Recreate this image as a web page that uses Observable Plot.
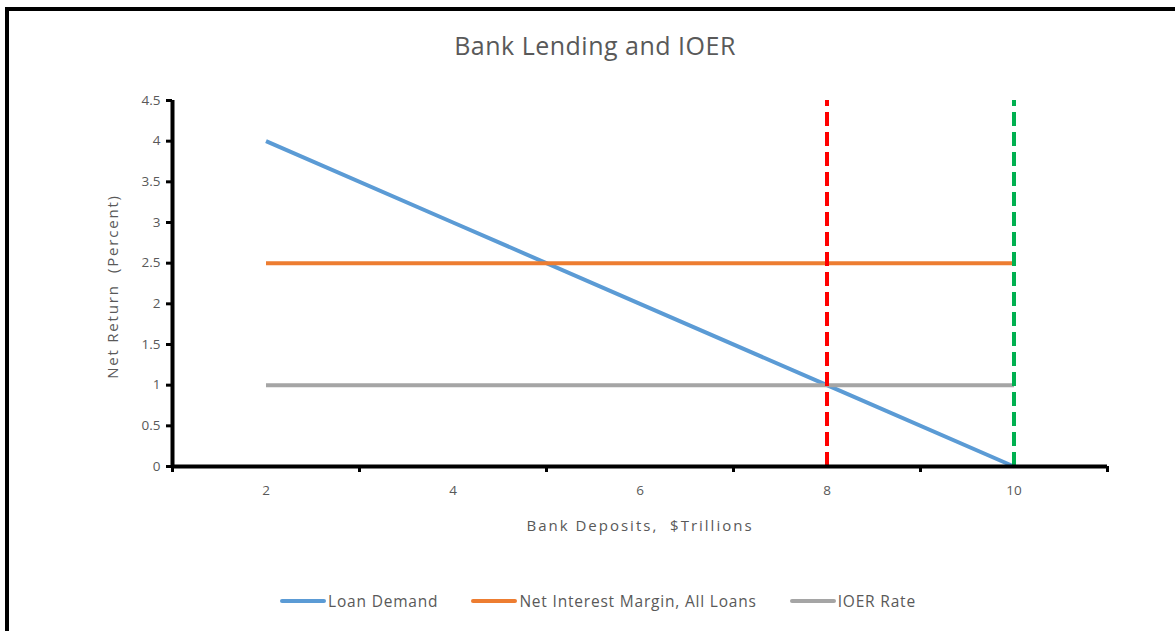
<!DOCTYPE html>
<html>
<head>
<meta charset="utf-8">
<script src="https://cdn.jsdelivr.net/npm/d3@7"></script>
<script src="https://cdn.jsdelivr.net/npm/@observablehq/plot@0.6"></script>
<style>
  body { margin: 0; background: #fff; }
  #wrap { position: relative; width: 1175px; height: 631px; overflow: hidden; background: #fff; font-family: "Open Sans", Lato, sans-serif; color: #595959; }
  .frame-top { position: absolute; left: 5px; top: 7px; width: 1170px; height: 4px; background: #000; }
  .frame-left { position: absolute; left: 5px; top: 7px; width: 4px; height: 624px; background: #000; }
  #title { position: absolute; left: 0; width: 1190px; top: 28px; text-align: center; font-size: 25px; letter-spacing: 0.5px; line-height: 34px; color: #595959; }
  #chart { position: absolute; left: 0; top: 80px; }
  #legend { position: absolute; left: 0; width: 1196px; top: 589px; display: flex; justify-content: center; gap: 33px; font-size: 15.5px; letter-spacing: 0.8px; line-height: 24px; color: #595959; }
  .item { display: flex; align-items: center; }
  .swatch { display: inline-block; width: 46px; height: 4px; margin-right: 2px; border-radius: 2px; }
</style>
</head>
<body>
<div id="wrap">
  <div class="frame-top"></div>
  <div class="frame-left"></div>
  <div id="title"></div>
  <div id="chart"></div>
  <div id="legend"></div>
</div>
<script>
const title = "Bank Lending and IOER";
const xLabel = "Bank Deposits,  $Trillions";
const yLabel = "Net Return  (Percent)";

// Bank deposits ($ trillions) at which each series is given
const deposits = [2, 4, 6, 8, 10];
const loanDemand = [4, 3, 2, 1, 0];
const netInterestMargin = [2.5, 2.5, 2.5, 2.5, 2.5];
const ioerRate = [1, 1, 1, 1, 1];

const seriesNames = ["Loan Demand", "Net Interest Margin, All Loans", "IOER Rate"];
const seriesColors = ["#5B9BD5", "#ED7D31", "#A5A5A5"];

// vertical dashed markers
const redMarkerX = 8;
const greenMarkerX = 10;
const markerSpan = [0, 4.5];

const xLabelTicks = [2, 4, 6, 8, 10];
const xTickMarks = [1, 3, 5, 7, 9, 11];
const yTicks = [0, 0.5, 1, 1.5, 2, 2.5, 3, 3.5, 4, 4.5];
const xDomain = [1, 11];
const yDomain = [0, 4.5];

const seriesValues = [loanDemand, netInterestMargin, ioerRate];
const rows = seriesValues.flatMap((vals, i) =>
  deposits.map((d, j) => ({series: seriesNames[i], x: d, y: vals[j]}))
);
const markers = [
  {x: redMarkerX, y1: markerSpan[0], y2: markerSpan[1], c: "#FF0000"},
  {x: greenMarkerX, y1: markerSpan[0], y2: markerSpan[1], c: "#00B050"}
];

document.getElementById("title").textContent = title;

const textColor = "#595959";
const chart = Plot.plot({
  width: 1175,
  height: 480,
  marginLeft: 172,
  marginRight: 68,
  marginTop: 20,
  marginBottom: 94,
  style: {fontFamily: "'Open Sans', Lato, sans-serif", fontSize: "13.5px", background: "transparent", overflow: "visible"},
  x: {domain: xDomain, label: null},
  y: {domain: yDomain, label: null},
  color: {domain: seriesNames, range: seriesColors},
  marks: [
    Plot.line(rows, {x: "x", y: "y", z: "series", stroke: "series", strokeWidth: 4, strokeLinecap: "butt"}),
    Plot.ruleX(markers.slice(0, 1), {x: "x", y1: "y1", y2: "y2", stroke: "c", strokeWidth: 4, strokeDasharray: "14,6"}),
    Plot.ruleX(markers.slice(1), {x: "x", y1: "y1", y2: "y2", stroke: "c", strokeWidth: 4, strokeDasharray: "14,6"}),
    // axis lines
    Plot.ruleY([yDomain[0]], {x1: xDomain[0], x2: xDomain[1], stroke: "#000", strokeWidth: 4}),
    Plot.ruleX([xDomain[0]], {y1: yDomain[0], y2: yDomain[1], stroke: "#000", strokeWidth: 4}),
    // tick marks
    Plot.axisY({ticks: yTicks, tickSize: 6, stroke: "#000", strokeWidth: 3, tickFormat: () => "", label: null}),
    Plot.axisX({ticks: xTickMarks, tickSize: 6, stroke: "#000", strokeWidth: 3, tickFormat: () => "", label: null}),
    // tick labels
    Plot.axisY({ticks: yTicks, tickSize: 0, tickPadding: 12, fill: textColor, tickFormat: d => String(d), label: null}),
    Plot.axisX({ticks: xLabelTicks, tickSize: 0, tickPadding: 19, fill: textColor, tickFormat: d => String(d), label: null}),
    // axis titles
    Plot.text([yLabel], {frameAnchor: "left", dx: -59, dy: 3, rotate: -90, textAnchor: "middle", fill: textColor, fontSize: 15, text: d => d}),
    Plot.text([xLabel], {frameAnchor: "bottom", dy: 64, textAnchor: "middle", fill: textColor, fontSize: 15, text: d => d})
  ]
});
document.getElementById("chart").appendChild(chart);
// Excel-like letter spacing on the axis titles
chart.querySelectorAll("text").forEach(t => {
  if (t.textContent === xLabel) t.style.letterSpacing = "2px";
  if (t.textContent === yLabel) t.style.letterSpacing = "1.8px";
});

const legend = document.getElementById("legend");
seriesNames.forEach((name, i) => {
  const item = document.createElement("div");
  item.className = "item";
  const sw = document.createElement("span");
  sw.className = "swatch";
  sw.style.background = seriesColors[i];
  const lbl = document.createElement("span");
  lbl.textContent = name;
  item.appendChild(sw);
  item.appendChild(lbl);
  legend.appendChild(item);
});
</script>
</body>
</html>
